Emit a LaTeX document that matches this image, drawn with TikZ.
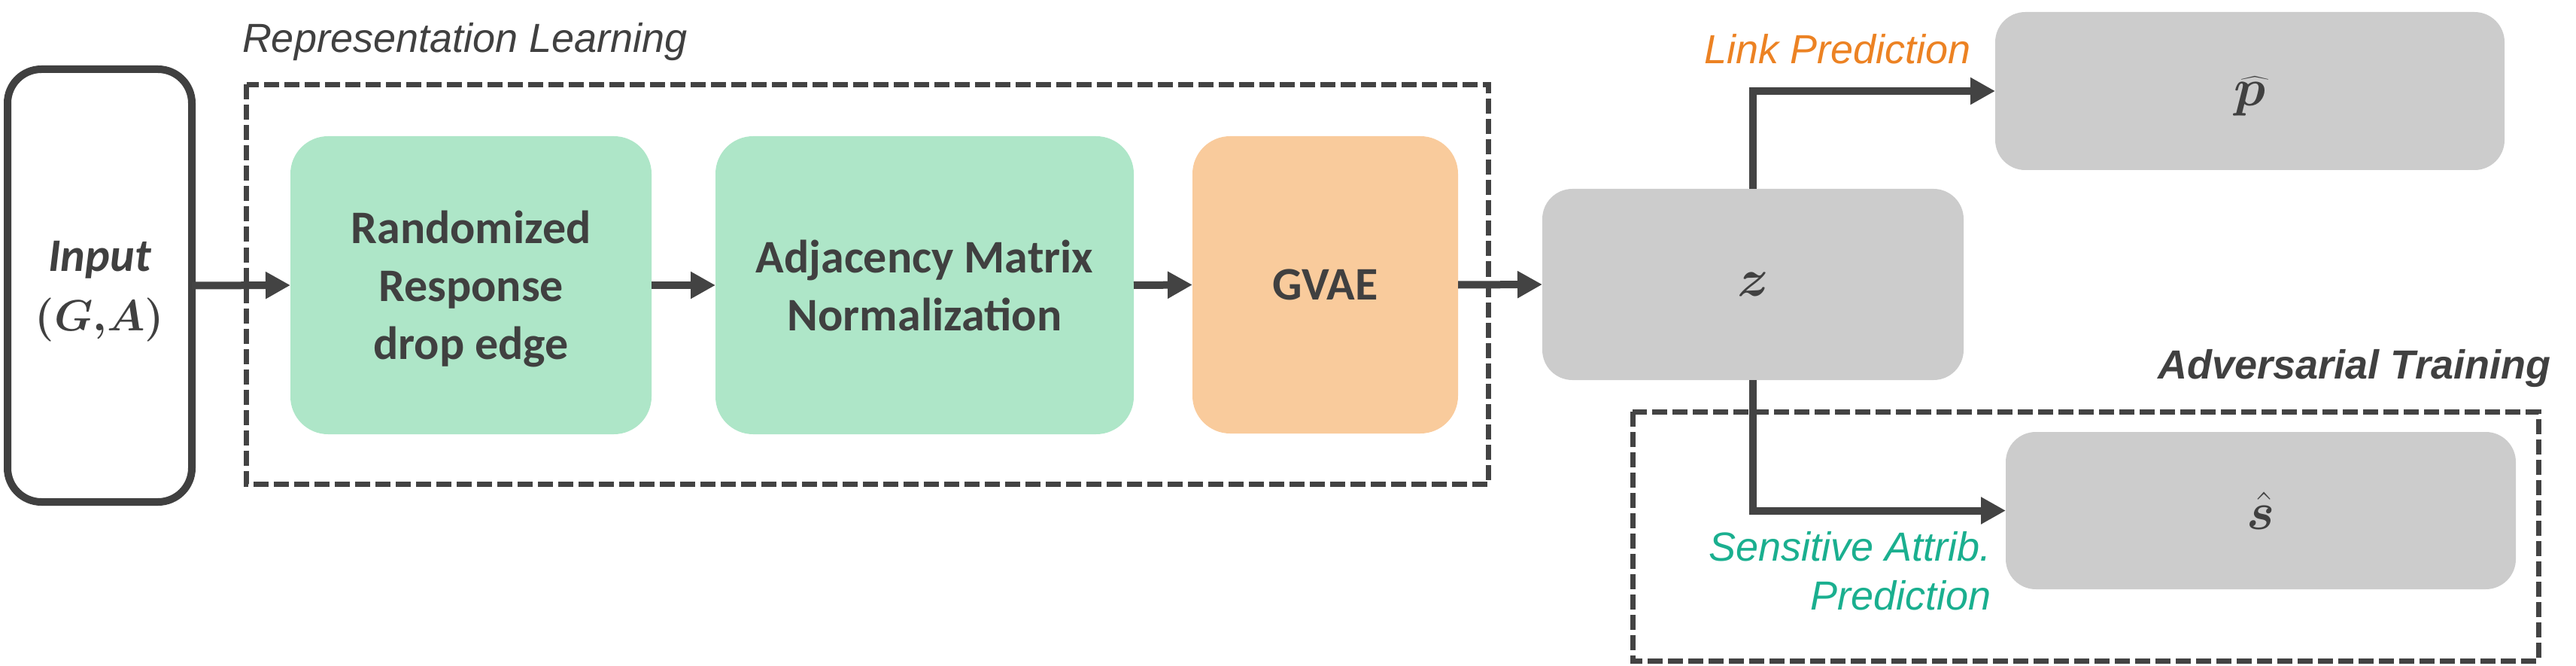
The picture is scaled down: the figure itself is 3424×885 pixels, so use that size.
\RequirePackage{fix-cm}
\documentclass[tikz,border=0pt]{standalone}
\usepackage{amsmath}
\usepackage{bm}
\usepackage{fontspec}
\setmainfont{Liberation Sans}
\newfontfamily\calib{Carlito}
\usetikzlibrary{arrows.meta}
\definecolor{dk}{HTML}{404040}
\definecolor{lnk}{HTML}{434343}
\definecolor{grn}{HTML}{AEE6C8}
\definecolor{org}{HTML}{F9CB9C}
\definecolor{gry}{HTML}{CCCCCC}
\definecolor{orangetxt}{HTML}{EC8223}
\definecolor{tealtxt}{HTML}{1AAF8F}
\begin{document}
\begin{tikzpicture}[x=1pt,y=-1pt,
  every node/.style={inner sep=0pt, outer sep=0pt},
  blk/.style={rounded corners=50pt, text=dk, align=center, text depth=0pt,
    font=\calib\bfseries\fontsize{62}{77}\selectfont},
  greenblk/.style={blk, fill=grn},
  orangeblk/.style={blk, fill=org},
  grayblk/.style={blk, fill=gry, rounded corners=40pt, font=\fontsize{70}{80}\selectfont},
  inblk/.style={blk, draw=dk, line width=10pt, rounded corners=45pt,
    font=\calib\bfseries\fontsize{62}{79}\selectfont},
  arr/.style={draw=lnk, line width=10pt, -{Triangle[length=33pt,width=34pt]}},
  dashbox/.style={draw=lnk, line width=7pt, dash pattern=on 20pt off 7pt},
  lbl/.style={font=\itshape\fontsize{54}{65}\selectfont}
]
\useasboundingbox (0,0) rectangle (3424,885);

% dashed groups
\draw[dashbox] (327.5,112.5) rectangle (1978.5,643);
\draw[dashbox] (2170,547) rectangle (3374,878);

% boxes
\node[inblk, minimum width=245pt, minimum height=575pt] (in) at (132.5,379.5)
  {\itshape Input\\{\fontsize{58}{79}\selectfont$\bm{(G,\! A)}$}};
\node[greenblk, minimum width=480pt, minimum height=396pt] (rr) at (626,379)
  {Randomized\\Response\\drop edge};
\node[greenblk, minimum width=556pt, minimum height=396pt] (adj) at (1229,379)
  {Adjacency Matrix\\Normalization};
\node[orangeblk, minimum width=353pt, minimum height=395pt] (gvae) at (1761.5,378.5)
  {GVAE};
\node[grayblk, minimum width=560pt, minimum height=254pt] (z) at (2330,378)
  {$\bm{z}$};
\node[grayblk, minimum width=677pt, minimum height=210pt] (p) at (2990.5,121)
  {$\widehat{\bm{p}}$};
\node[grayblk, minimum width=678pt, minimum height=209pt] (s) at (3005,678.5)
  {$\hat{\bm{s}}$};

% labels
\node[lbl, text=dk, anchor=base west] (replbl) at (322,70) {Representation Learning};
\node[lbl, text=orangetxt, anchor=base east] (linklbl) at (2620,85) {Link Prediction};
\node[lbl, text=dk, font=\bfseries\itshape\fontsize{54}{65}\selectfont, anchor=base east] (advlbl) at (3390,503) {Adversarial Training};
\node[lbl, text=tealtxt, align=right, anchor=base east] (senslbl) at (2647,810) {Sensitive Attrib.\\Prediction};

% connectors
\draw[arr] (in.east) -- (rr.west);
\draw[arr] (rr.east) -- (adj.west);
\draw[arr] (adj.east) -- (gvae.west);
\draw[arr] (gvae.east) -- (z.west);
\draw[arr] (z.north) |- (p.west);
\draw[arr] (z.south) |- (s.west);
\end{tikzpicture}
\end{document}
